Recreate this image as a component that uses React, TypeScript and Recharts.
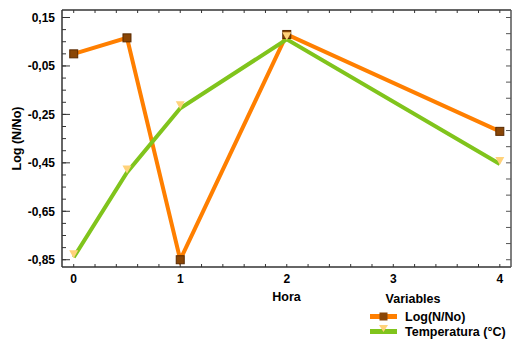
import { LineChart, Line, XAxis, YAxis } from "recharts"

// Hours sampled and the two variables measured at each
const hours = [0, 0.5, 1, 2, 4]
const logReduction = [0.0, 0.066, -0.85, 0.08, -0.32]
const temperature = [-0.84, -0.49, -0.225, 0.06, -0.455]

const seriesNames = ["Log(N/No)", "Temperatura (°C)"]

const xLabelTicks = [0, 1, 2, 3, 4]
const xMinorTicks = [0, 0.2, 0.4, 0.6, 0.8, 1, 1.2, 1.4, 1.6, 1.8, 2, 2.2, 2.4, 2.6, 2.8, 3, 3.2, 3.4, 3.6, 3.8, 4]
const yLabelTicks = [0.15, -0.05, -0.25, -0.45, -0.65, -0.85]
const yMinorTicks = [
  0.15, 0.1, 0.05, 0, -0.05, -0.1, -0.15, -0.2, -0.25, -0.3, -0.35, -0.4, -0.45, -0.5, -0.55, -0.6, -0.65, -0.7,
  -0.75, -0.8, -0.85,
]
const rightTicks = [
  0.15, 0.0833, 0.0167, -0.05, -0.1167, -0.1833, -0.25, -0.3167, -0.3833, -0.45, -0.5167, -0.5833, -0.65, -0.7167,
  -0.7833, -0.85,
]

const X_DOMAIN: [number, number] = [-0.11, 4.105]
const Y_DOMAIN: [number, number] = [-0.88, 0.181]

const ORANGE = "#ff7f00"
const GREEN = "#80c41c"
const BROWN = "#8a4606"
const YELLOW = "#ffd27a"
const AXIS = "#333"

const data = hours.map((hora, i) => ({ hora, log: logReduction[i], temp: temperature[i] }))

const formatComma = (v: number) => v.toFixed(2).replace(".", ",")
const noLabel = () => ""

const SquareDot = (props: any) => {
  const { cx, cy } = props
  if (cx == null || cy == null) return null
  return <rect x={cx - 4} y={cy - 4} width={8} height={8} fill={BROWN} stroke="#5a2a00" strokeWidth={1} />
}

const TriangleDot = (props: any) => {
  const { cx, cy } = props
  if (cx == null || cy == null) return null
  return <polygon points={`${cx - 4.5},${cy - 7} ${cx + 4.5},${cy - 7} ${cx},${cy + 1}`} fill={YELLOW} />
}

const tickText = { fontSize: 12, fontWeight: "bold", fill: "#000" }
const hiddenTick = { fontSize: 1, fill: "none" }

// invisible series so the tick-only axes get a scale
const axisHolder = (xId: string, yId: string) => (
  <Line
    xAxisId={xId}
    yAxisId={yId}
    dataKey="log"
    stroke="none"
    dot={false}
    activeDot={false}
    legendType="none"
    isAnimationActive={false}
  />
)

const VariablesLegend = () => (
  <svg width={154} height={58} style={{ position: "absolute", left: 360, top: 285, overflow: "visible" }}>
    <text x={53} y={18} textAnchor="middle" fontSize={12.5} fontWeight="bold" fill="#000">
      Variables
    </text>
    <line x1={10} x2={37} y1={31.5} y2={31.5} stroke={ORANGE} strokeWidth={5} />
    <rect x={19.5} y={27.5} width={8} height={8} fill={BROWN} />
    <text x={45} y={36} fontSize={12.5} fontWeight="bold" fill="#000">
      {seriesNames[0]}
    </text>
    <line x1={10} x2={37} y1={46.5} y2={46.5} stroke={GREEN} strokeWidth={5} />
    <polygon points="19,40 28,40 23.5,47" fill={YELLOW} />
    <text x={45} y={51} fontSize={12.5} fontWeight="bold" fill="#000">
      {seriesNames[1]}
    </text>
  </svg>
)

export default function App() {
  return (
    <div
      style={{
        position: "absolute",
        left: 0,
        top: 0,
        width: 514,
        height: 343,
        fontFamily: "'Liberation Sans', Arial, sans-serif",
      }}
    >
      <LineChart width={514} height={343} data={data} margin={{ top: 10, right: 3, bottom: 0, left: 0 }}>
        <XAxis
          xAxisId="x"
          dataKey="hora"
          type="number"
          domain={X_DOMAIN}
          allowDataOverflow
          ticks={xLabelTicks}
          interval={0}
          tickLine={false}
          tickMargin={1}
          height={76}
          tick={tickText}
          axisLine={{ stroke: AXIS, strokeWidth: 1.5 }}
          label={{ value: "Hora", position: "insideTop", offset: 25, fontSize: 12.5, fontWeight: "bold", fill: "#000" }}
        />
        <XAxis
          xAxisId="xMinor"
          dataKey="hora"
          type="number"
          domain={X_DOMAIN}
          allowDataOverflow
          ticks={xMinorTicks}
          interval={0}
          mirror
          tick={hiddenTick}
          tickFormatter={noLabel}
          tickSize={3}
          axisLine={false}
          tickLine={{ stroke: AXIS }}
        />
        <XAxis
          xAxisId="xTop"
          dataKey="hora"
          orientation="top"
          type="number"
          domain={X_DOMAIN}
          allowDataOverflow
          ticks={xMinorTicks}
          interval={0}
          mirror
          tick={hiddenTick}
          tickFormatter={noLabel}
          tickSize={3}
          axisLine={{ stroke: AXIS, strokeWidth: 1.5 }}
          tickLine={{ stroke: AXIS }}
        />
        {/* labelled axis: long inward ticks at the labelled values */}
        <YAxis
          yAxisId="y"
          type="number"
          domain={Y_DOMAIN}
          allowDataOverflow
          ticks={yLabelTicks}
          interval={0}
          width={62}
          tickSize={-8}
          tickMargin={15}
          tickLine={{ stroke: AXIS }}
          tick={tickText}
          tickFormatter={formatComma}
          axisLine={{ stroke: AXIS, strokeWidth: 1.5 }}
          label={{
            value: "Log (N/No)",
            angle: -90,
            position: "insideLeft",
            offset: 17,
            fontSize: 12.5,
            fontWeight: "bold",
            fill: "#000",
            style: { textAnchor: "middle" },
          }}
        />
        <YAxis
          yAxisId="yMinor"
          type="number"
          domain={Y_DOMAIN}
          allowDataOverflow
          ticks={yMinorTicks}
          interval={0}
          mirror
          tick={hiddenTick}
          tickFormatter={noLabel}
          tickSize={4}
          axisLine={false}
          tickLine={{ stroke: AXIS }}
        />
        <YAxis
          yAxisId="yRight"
          orientation="right"
          type="number"
          domain={Y_DOMAIN}
          allowDataOverflow
          ticks={rightTicks}
          interval={0}
          mirror
          tick={hiddenTick}
          tickFormatter={noLabel}
          tickSize={5}
          axisLine={{ stroke: "#555", strokeWidth: 1.5 }}
          tickLine={{ stroke: "#555" }}
        />
        {axisHolder("xMinor", "yMinor")}
        {axisHolder("xTop", "yRight")}
        <Line
          xAxisId="x"
          yAxisId="y"
          dataKey="log"
          name={seriesNames[0]}
          stroke={ORANGE}
          strokeWidth={4}
          dot={<SquareDot />}
          activeDot={false}
          isAnimationActive={false}
        />
        <Line
          xAxisId="x"
          yAxisId="y"
          dataKey="temp"
          stroke="none"
          legendType="none"
          dot={<TriangleDot />}
          activeDot={false}
          isAnimationActive={false}
        />
        <Line
          xAxisId="x"
          yAxisId="y"
          dataKey="temp"
          name={seriesNames[1]}
          stroke={GREEN}
          strokeWidth={4}
          dot={false}
          activeDot={false}
          isAnimationActive={false}
        />
      </LineChart>
      <VariablesLegend />
    </div>
  )
}
